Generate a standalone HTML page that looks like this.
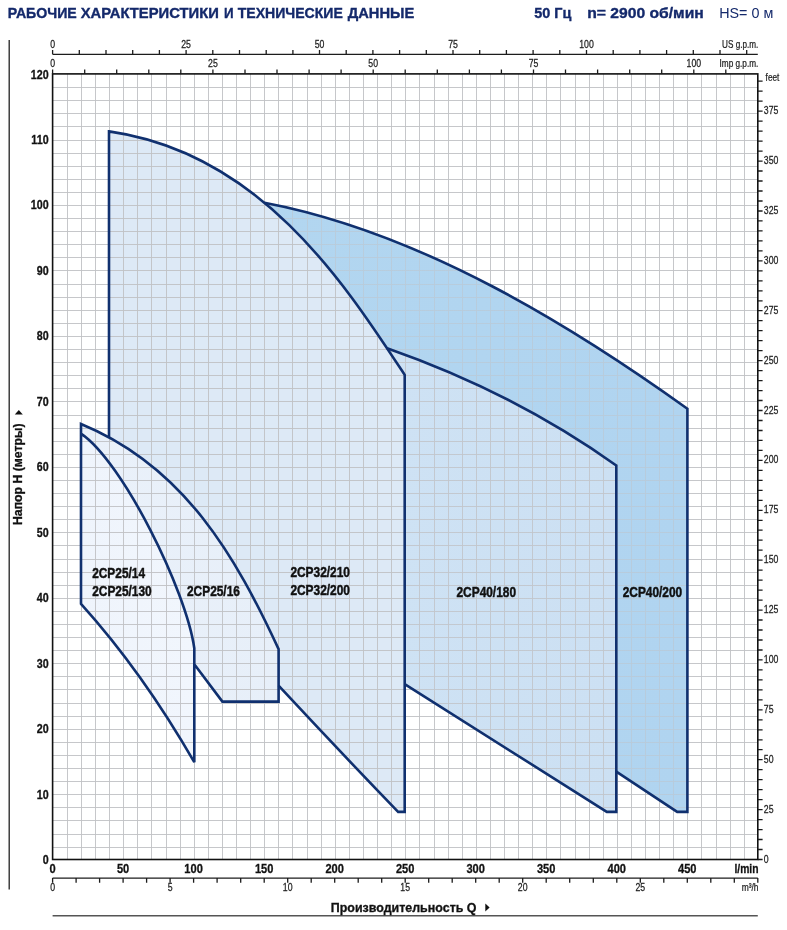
<!DOCTYPE html>
<html lang="ru">
<head>
<meta charset="utf-8">
<title>Рабочие характеристики и технические данные</title>
<style>
html,body{margin:0;padding:0;background:#fff;}
body{width:787px;height:930px;overflow:hidden;font-family:"Liberation Sans",sans-serif;}
svg{display:block;}
text{font-family:"Liberation Sans",sans-serif;}
.ttl{font-weight:bold;fill:#14296b;font-size:14.6px;stroke:#14296b;stroke-width:0.35px;}
.ax{font-weight:bold;fill:#111;font-size:12.9px;stroke:#111;stroke-width:0.3px;}
.sm{fill:#1e1e1e;font-size:10.4px;stroke:#1e1e1e;stroke-width:0.25px;}
.lb{font-weight:bold;fill:#111;font-size:14.1px;stroke:#111;stroke-width:0.45px;}
</style>
</head>
<body>
<svg width="787" height="930" viewBox="0 0 787 930">
<defs>
<linearGradient id="g200" x1="0" y1="0" x2="1" y2="0"><stop offset="0" stop-color="#b2d6f0"/><stop offset="1" stop-color="#b0d4f0"/></linearGradient>
<linearGradient id="g180" x1="0" y1="0" x2="1" y2="0"><stop offset="0" stop-color="#cee2f4"/><stop offset="1" stop-color="#cce0f3"/></linearGradient>
<linearGradient id="g32" x1="0" y1="0" x2="1" y2="0"><stop offset="0" stop-color="#dde9f6"/><stop offset="1" stop-color="#dde9f6"/></linearGradient>
<linearGradient id="g16" x1="0" y1="0" x2="1" y2="0"><stop offset="0" stop-color="#eaf1fa"/><stop offset="1" stop-color="#e7eff9"/></linearGradient>
<linearGradient id="g14" x1="0" y1="0" x2="1" y2="0"><stop offset="0" stop-color="#eff4fc"/><stop offset="1" stop-color="#f1f6fd"/></linearGradient>
</defs>
<rect width="787" height="930" fill="#fff"/>

<g stroke="none">
<path fill="url(#g200)" d="M264.4 202.7C423.1 232.8 575.7 328.7 687.4 408.7L687.4 811.9L677.2 811.9L616.3 771.7L616.3 465.5C551 418.9 475.6 379.1 387.1 348.2C355 300.1 315.9 245.5 264.4 202.7Z"/>
<path fill="url(#g180)" d="M387.1 348.2C475.6 379.1 551 418.9 616.3 465.5L616.3 811.9L606.8 811.9L404.7 684.1L404.7 374.9C399.1 366.3 393.2 357.4 387.1 348.2Z"/>
<path fill="url(#g32)" d="M109 131.4C261.1 153 345.1 284.4 404.7 374.9L404.7 811.9L398.1 811.9Q339 750.6 278.6 685.7L278.6 649.1C239.9 565.8 194.2 483.6 109 437.3L109 131.4Z"/>
<path fill="url(#g16)" d="M81 424C184.6 466.5 235.9 557.1 278.6 649.1L278.6 701.6L222.4 701.6L194.3 664.2L194.3 648.2C186 589.8 122.6 461.7 81 433.6Z"/>
<path fill="url(#g14)" d="M81 433.6C122.6 461.7 186 589.8 194.3 648.2L194.3 762.2C160.4 703.2 126.5 654.3 81 603.8Z"/>
</g>
<path d="M67.5 73.9V859.5M81.5 73.9V859.5M95.5 73.9V859.5M109.5 73.9V859.5M123.5 73.9V859.5M137.5 73.9V859.5M151.5 73.9V859.5M166.5 73.9V859.5M180.5 73.9V859.5M194.5 73.9V859.5M208.5 73.9V859.5M222.5 73.9V859.5M236.5 73.9V859.5M250.5 73.9V859.5M264.5 73.9V859.5M278.5 73.9V859.5M292.5 73.9V859.5M307.5 73.9V859.5M321.5 73.9V859.5M335.5 73.9V859.5M349.5 73.9V859.5M363.5 73.9V859.5M377.5 73.9V859.5M391.5 73.9V859.5M405.5 73.9V859.5M419.5 73.9V859.5M434.5 73.9V859.5M448.5 73.9V859.5M462.5 73.9V859.5M476.5 73.9V859.5M490.5 73.9V859.5M504.5 73.9V859.5M518.5 73.9V859.5M532.5 73.9V859.5M546.5 73.9V859.5M560.5 73.9V859.5M575.5 73.9V859.5M589.5 73.9V859.5M603.5 73.9V859.5M617.5 73.9V859.5M631.5 73.9V859.5M645.5 73.9V859.5M659.5 73.9V859.5M673.5 73.9V859.5M687.5 73.9V859.5M701.5 73.9V859.5M716.5 73.9V859.5M730.5 73.9V859.5M744.5 73.9V859.5M52.6 847.5H757.8M52.6 834.5H757.8M52.6 820.5H757.8M52.6 807.5H757.8M52.6 794.5H757.8M52.6 781.5H757.8M52.6 768.5H757.8M52.6 755.5H757.8M52.6 742.5H757.8M52.6 729.5H757.8M52.6 716.5H757.8M52.6 703.5H757.8M52.6 689.5H757.8M52.6 676.5H757.8M52.6 663.5H757.8M52.6 650.5H757.8M52.6 637.5H757.8M52.6 624.5H757.8M52.6 611.5H757.8M52.6 598.5H757.8M52.6 585.5H757.8M52.6 572.5H757.8M52.6 559.5H757.8M52.6 545.5H757.8M52.6 532.5H757.8M52.6 519.5H757.8M52.6 506.5H757.8M52.6 493.5H757.8M52.6 480.5H757.8M52.6 467.5H757.8M52.6 454.5H757.8M52.6 441.5H757.8M52.6 428.5H757.8M52.6 415.5H757.8M52.6 401.5H757.8M52.6 388.5H757.8M52.6 375.5H757.8M52.6 362.5H757.8M52.6 349.5H757.8M52.6 336.5H757.8M52.6 323.5H757.8M52.6 310.5H757.8M52.6 297.5H757.8M52.6 284.5H757.8M52.6 270.5H757.8M52.6 257.5H757.8M52.6 244.5H757.8M52.6 231.5H757.8M52.6 218.5H757.8M52.6 205.5H757.8M52.6 192.5H757.8M52.6 179.5H757.8M52.6 166.5H757.8M52.6 153.5H757.8M52.6 140.5H757.8M52.6 126.5H757.8M52.6 113.5H757.8M52.6 100.5H757.8M52.6 87.5H757.8" fill="none" stroke="#c0c1c4" stroke-opacity="0.9" stroke-width="1"/>
<path fill="url(#g200)" fill-opacity="0.5" d="M264.4 202.7C423.1 232.8 575.7 328.7 687.4 408.7L687.4 811.9L677.2 811.9L616.3 771.7L616.3 465.5C551 418.9 475.6 379.1 387.1 348.2C355 300.1 315.9 245.5 264.4 202.7Z"/>
<path fill="url(#g180)" fill-opacity="0.15" d="M387.1 348.2C475.6 379.1 551 418.9 616.3 465.5L616.3 811.9L606.8 811.9L404.7 684.1L404.7 374.9C399.1 366.3 393.2 357.4 387.1 348.2Z"/>
<g fill="none" stroke="#10306f" stroke-width="2.6" stroke-linejoin="miter" stroke-miterlimit="3" stroke-linecap="butt">
<path d="M109 437.3L109 131.4C261.1 153 345.1 284.4 404.7 374.9L404.7 811.9L398.1 811.9Q339 750.6 278.6 685.7"/>
<path d="M264.4 202.7C423.1 232.8 575.7 328.7 687.4 408.7L687.4 811.9L677.2 811.9L616.3 771.7"/>
<path d="M387.1 348.2C475.6 379.1 551 418.9 616.3 465.5L616.3 811.9L606.8 811.9L404.7 684.1"/>
<path d="M81 433.6C122.6 461.7 186 589.8 194.3 648.2L194.3 762.2C160.4 703.2 126.5 654.3 81 603.8L81 424C184.6 466.5 235.9 557.1 278.6 649.1L278.6 701.6L222.4 701.6L194.3 664.2"/>
</g>
<rect x="52.6" y="73.9" width="705.2" height="785.6" fill="none" stroke="#111" stroke-width="1.6"/>
<path d="M9.2 40V889.5" stroke="#222" stroke-width="1.3" fill="none"/>
<path d="M52.6 915.8H757.8" stroke="#555" stroke-width="1.5" fill="none"/>
<path d="M52.6 54.3H757.8M52.6 54.3V50.1M79.3 54.3V50.1M106 54.3V50.1M132.7 54.3V50.1M159.4 54.3V50.1M186.1 54.3V50.1M212.8 54.3V50.1M239.5 54.3V50.1M266.2 54.3V50.1M292.9 54.3V50.1M319.5 54.3V50.1M346.2 54.3V50.1M372.9 54.3V50.1M399.6 54.3V50.1M426.3 54.3V50.1M453 54.3V50.1M479.7 54.3V50.1M506.4 54.3V50.1M533.1 54.3V50.1M559.8 54.3V50.1M586.5 54.3V50.1M613.2 54.3V50.1M639.9 54.3V50.1M666.6 54.3V50.1M693.3 54.3V50.1M720 54.3V50.1M746.7 54.3V50.1M52.6 73.9V69.4M84.7 73.9V69.4M116.7 73.9V69.4M148.8 73.9V69.4M180.8 73.9V69.4M212.9 73.9V69.4M245 73.9V69.4M277 73.9V69.4M309.1 73.9V69.4M341.1 73.9V69.4M373.2 73.9V69.4M405.2 73.9V69.4M437.3 73.9V69.4M469.4 73.9V69.4M501.4 73.9V69.4M533.5 73.9V69.4M565.5 73.9V69.4M597.6 73.9V69.4M629.7 73.9V69.4M661.7 73.9V69.4M693.8 73.9V69.4M725.8 73.9V69.4M757.8 859.5H762.6M757.8 849.5H762.6M757.8 839.5H762.6M757.8 829.6H762.6M757.8 819.6H762.6M757.8 809.6H762.6M757.8 799.6H762.6M757.8 789.7H762.6M757.8 779.7H762.6M757.8 769.7H762.6M757.8 759.7H762.6M757.8 749.7H762.6M757.8 739.8H762.6M757.8 729.8H762.6M757.8 719.8H762.6M757.8 709.8H762.6M757.8 699.9H762.6M757.8 689.9H762.6M757.8 679.9H762.6M757.8 669.9H762.6M757.8 659.9H762.6M757.8 650H762.6M757.8 640H762.6M757.8 630H762.6M757.8 620H762.6M757.8 610.1H762.6M757.8 600.1H762.6M757.8 590.1H762.6M757.8 580.1H762.6M757.8 570.1H762.6M757.8 560.2H762.6M757.8 550.2H762.6M757.8 540.2H762.6M757.8 530.2H762.6M757.8 520.3H762.6M757.8 510.3H762.6M757.8 500.3H762.6M757.8 490.3H762.6M757.8 480.4H762.6M757.8 470.4H762.6M757.8 460.4H762.6M757.8 450.4H762.6M757.8 440.4H762.6M757.8 430.5H762.6M757.8 420.5H762.6M757.8 410.5H762.6M757.8 400.5H762.6M757.8 390.6H762.6M757.8 380.6H762.6M757.8 370.6H762.6M757.8 360.6H762.6M757.8 350.6H762.6M757.8 340.7H762.6M757.8 330.7H762.6M757.8 320.7H762.6M757.8 310.7H762.6M757.8 300.8H762.6M757.8 290.8H762.6M757.8 280.8H762.6M757.8 270.8H762.6M757.8 260.8H762.6M757.8 250.9H762.6M757.8 240.9H762.6M757.8 230.9H762.6M757.8 220.9H762.6M757.8 211H762.6M757.8 201H762.6M757.8 191H762.6M757.8 181H762.6M757.8 171H762.6M757.8 161.1H762.6M757.8 151.1H762.6M757.8 141.1H762.6M757.8 131.1H762.6M757.8 121.2H762.6M757.8 111.2H762.6M757.8 101.2H762.6M757.8 91.2H762.6M757.8 81.2H762.6M52.6 878.1H757.8M52.6 878.1V882.7M76.1 878.1V882.7M99.6 878.1V882.7M123.1 878.1V882.7M146.6 878.1V882.7M170.1 878.1V882.7M193.6 878.1V882.7M217.1 878.1V882.7M240.7 878.1V882.7M264.2 878.1V882.7M287.7 878.1V882.7M311.2 878.1V882.7M334.7 878.1V882.7M358.2 878.1V882.7M381.7 878.1V882.7M405.2 878.1V882.7M428.7 878.1V882.7M452.2 878.1V882.7M475.7 878.1V882.7M499.2 878.1V882.7M522.7 878.1V882.7M546.2 878.1V882.7M569.7 878.1V882.7M593.3 878.1V882.7M616.8 878.1V882.7M640.3 878.1V882.7M663.8 878.1V882.7M687.3 878.1V882.7M710.8 878.1V882.7M734.3 878.1V882.7M757.8 878.1V882.7" fill="none" stroke="#1c1c1c" stroke-width="1.3"/>
<text class="ax" transform="translate(48.6 864.1) scale(0.83 1)" text-anchor="end">0</text>
<text class="ax" transform="translate(48.6 798.6) scale(0.83 1)" text-anchor="end">10</text>
<text class="ax" transform="translate(48.6 733.2) scale(0.83 1)" text-anchor="end">20</text>
<text class="ax" transform="translate(48.6 667.7) scale(0.83 1)" text-anchor="end">30</text>
<text class="ax" transform="translate(48.6 602.2) scale(0.83 1)" text-anchor="end">40</text>
<text class="ax" transform="translate(48.6 536.8) scale(0.83 1)" text-anchor="end">50</text>
<text class="ax" transform="translate(48.6 471.3) scale(0.83 1)" text-anchor="end">60</text>
<text class="ax" transform="translate(48.6 405.8) scale(0.83 1)" text-anchor="end">70</text>
<text class="ax" transform="translate(48.6 340.3) scale(0.83 1)" text-anchor="end">80</text>
<text class="ax" transform="translate(48.6 274.9) scale(0.83 1)" text-anchor="end">90</text>
<text class="ax" transform="translate(48.6 209.4) scale(0.83 1)" text-anchor="end">100</text>
<text class="ax" transform="translate(48.6 143.9) scale(0.83 1)" text-anchor="end">110</text>
<text class="ax" transform="translate(48.6 78.5) scale(0.83 1)" text-anchor="end">120</text>
<text class="ax" transform="translate(52.6 873.2) scale(0.86 1)" text-anchor="middle">0</text>
<text class="ax" transform="translate(123.1 873.2) scale(0.86 1)" text-anchor="middle">50</text>
<text class="ax" transform="translate(193.6 873.2) scale(0.86 1)" text-anchor="middle">100</text>
<text class="ax" transform="translate(264.2 873.2) scale(0.86 1)" text-anchor="middle">150</text>
<text class="ax" transform="translate(334.7 873.2) scale(0.86 1)" text-anchor="middle">200</text>
<text class="ax" transform="translate(405.2 873.2) scale(0.86 1)" text-anchor="middle">250</text>
<text class="ax" transform="translate(475.7 873.2) scale(0.86 1)" text-anchor="middle">300</text>
<text class="ax" transform="translate(546.2 873.2) scale(0.86 1)" text-anchor="middle">350</text>
<text class="ax" transform="translate(616.8 873.2) scale(0.86 1)" text-anchor="middle">400</text>
<text class="ax" transform="translate(687.3 873.2) scale(0.86 1)" text-anchor="middle">450</text>
<text class="ax" transform="translate(758.5 873.2) scale(0.8 1)" text-anchor="end">l/min</text>
<text class="sm" transform="translate(52.6 890.7) scale(0.84 1)" text-anchor="middle">0</text>
<text class="sm" transform="translate(170.1 890.7) scale(0.84 1)" text-anchor="middle">5</text>
<text class="sm" transform="translate(287.7 890.7) scale(0.84 1)" text-anchor="middle">10</text>
<text class="sm" transform="translate(405.2 890.7) scale(0.84 1)" text-anchor="middle">15</text>
<text class="sm" transform="translate(522.7 890.7) scale(0.84 1)" text-anchor="middle">20</text>
<text class="sm" transform="translate(640.3 890.7) scale(0.84 1)" text-anchor="middle">25</text>
<text class="sm" transform="translate(758.5 890.7) scale(0.81 1)" text-anchor="end">m³/h</text>
<text class="sm" transform="translate(52.6 47.8) scale(0.84 1)" text-anchor="middle">0</text>
<text class="sm" transform="translate(186.1 47.8) scale(0.84 1)" text-anchor="middle">25</text>
<text class="sm" transform="translate(319.5 47.8) scale(0.84 1)" text-anchor="middle">50</text>
<text class="sm" transform="translate(453 47.8) scale(0.84 1)" text-anchor="middle">75</text>
<text class="sm" transform="translate(586.5 47.8) scale(0.84 1)" text-anchor="middle">100</text>
<text class="sm" transform="translate(758.3 48.1) scale(0.785 1)" text-anchor="end">US g.p.m.</text>
<text class="sm" transform="translate(52.6 67.1) scale(0.84 1)" text-anchor="middle">0</text>
<text class="sm" transform="translate(212.9 67.1) scale(0.84 1)" text-anchor="middle">25</text>
<text class="sm" transform="translate(373.2 67.1) scale(0.84 1)" text-anchor="middle">50</text>
<text class="sm" transform="translate(533.5 67.1) scale(0.84 1)" text-anchor="middle">75</text>
<text class="sm" transform="translate(693.8 67.1) scale(0.84 1)" text-anchor="middle">100</text>
<text class="sm" transform="translate(758.3 67.2) scale(0.79 1)" text-anchor="end">Imp g.p.m.</text>
<text class="sm" transform="translate(765.6 81.1) scale(0.79 1)" text-anchor="start">feet</text>
<text class="sm" transform="translate(763.8 862.5) scale(0.84 1)" text-anchor="start">0</text>
<text class="sm" transform="translate(763.8 812.6) scale(0.84 1)" text-anchor="start">25</text>
<text class="sm" transform="translate(763.8 762.7) scale(0.84 1)" text-anchor="start">50</text>
<text class="sm" transform="translate(763.8 712.8) scale(0.84 1)" text-anchor="start">75</text>
<text class="sm" transform="translate(763.8 662.9) scale(0.84 1)" text-anchor="start">100</text>
<text class="sm" transform="translate(763.8 613.1) scale(0.84 1)" text-anchor="start">125</text>
<text class="sm" transform="translate(763.8 563.2) scale(0.84 1)" text-anchor="start">150</text>
<text class="sm" transform="translate(763.8 513.3) scale(0.84 1)" text-anchor="start">175</text>
<text class="sm" transform="translate(763.8 463.4) scale(0.84 1)" text-anchor="start">200</text>
<text class="sm" transform="translate(763.8 413.5) scale(0.84 1)" text-anchor="start">225</text>
<text class="sm" transform="translate(763.8 363.6) scale(0.84 1)" text-anchor="start">250</text>
<text class="sm" transform="translate(763.8 313.7) scale(0.84 1)" text-anchor="start">275</text>
<text class="sm" transform="translate(763.8 263.8) scale(0.84 1)" text-anchor="start">300</text>
<text class="sm" transform="translate(763.8 214) scale(0.84 1)" text-anchor="start">325</text>
<text class="sm" transform="translate(763.8 164.1) scale(0.84 1)" text-anchor="start">350</text>
<text class="sm" transform="translate(763.8 114.2) scale(0.84 1)" text-anchor="start">375</text>
<text class="lb" x="92.2" y="578.1" textLength="52.8" lengthAdjust="spacingAndGlyphs">2CP25/14</text>
<text class="lb" x="92.2" y="596.1" textLength="59.5" lengthAdjust="spacingAndGlyphs">2CP25/130</text>
<text class="lb" x="187" y="595.6" textLength="52.9" lengthAdjust="spacingAndGlyphs">2CP25/16</text>
<text class="lb" x="290.4" y="576.8" textLength="59.5" lengthAdjust="spacingAndGlyphs">2CP32/210</text>
<text class="lb" x="290.4" y="595" textLength="59.5" lengthAdjust="spacingAndGlyphs">2CP32/200</text>
<text class="lb" x="456.5" y="596.7" textLength="59.5" lengthAdjust="spacingAndGlyphs">2CP40/180</text>
<text class="lb" x="622.7" y="596.7" textLength="59.5" lengthAdjust="spacingAndGlyphs">2CP40/200</text>
<text class="ttl" style="" x="7.7" y="17.6" textLength="69.1" lengthAdjust="spacingAndGlyphs">РАБОЧИЕ</text>
<text class="ttl" style="" x="80.7" y="17.6" textLength="138.1" lengthAdjust="spacingAndGlyphs">ХАРАКТЕРИСТИКИ</text>
<text class="ttl" style="" x="224.1" y="17.6" textLength="9.6" lengthAdjust="spacingAndGlyphs">И</text>
<text class="ttl" style="" x="237.7" y="17.6" textLength="105.1" lengthAdjust="spacingAndGlyphs">ТЕХНИЧЕСКИЕ</text>
<text class="ttl" style="" x="347.7" y="17.6" textLength="66.6" lengthAdjust="spacingAndGlyphs">ДАННЫЕ</text>
<text class="ttl" style="font-size:15px" x="534.2" y="17.6" textLength="37.1" lengthAdjust="spacingAndGlyphs">50 Гц</text>
<text class="ttl" style="font-size:15px" x="587.2" y="17.6" textLength="116.6" lengthAdjust="spacingAndGlyphs">n= 2900 об/мин</text>
<text class="ttl" style="font-size:15px;font-weight:normal;stroke:none" x="719.2" y="17.6" textLength="54.1" lengthAdjust="spacingAndGlyphs">HS= 0 м</text>
<text class="ax" style="font-size:12.3px" transform="translate(22 525) rotate(-90)" textLength="101.5" lengthAdjust="spacingAndGlyphs">Напор H (метры)</text>
<path d="M14.8 414.5L22.8 414.5L18.8 410Z" fill="#111"/>
<text class="ax" style="font-size:12.4px" x="330.8" y="912.1" textLength="145.7" lengthAdjust="spacingAndGlyphs">Производительность Q</text>
<path d="M485.3 903.6L485.3 911.6L489.6 907.6Z" fill="#111"/>
</svg>
</body>
</html>
